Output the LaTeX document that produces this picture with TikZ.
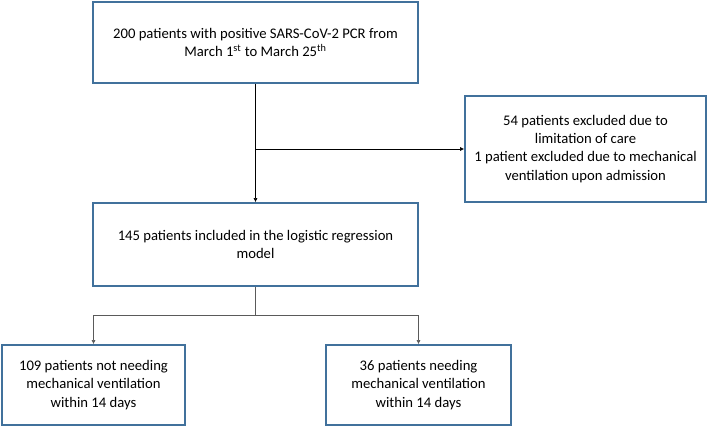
\documentclass[tikz,border=0pt]{standalone}
\usepackage{fontspec}
\setmainfont{Carlito}
\definecolor{boxblue}{RGB}{65,113,156}
\definecolor{linegray}{RGB}{90,90,90}
\tikzset{
  flowbox/.style={draw=boxblue, line width=1pt, rectangle, align=center, inner sep=0pt,
    font=\fontsize{11}{13.6}\selectfont},
  link/.style={draw=black, line width=0.5pt},
  linkarrow/.style={link, -{Latex[length=3.2pt,width=3pt]}}
}
\usetikzlibrary{arrows.meta}
\begin{document}
\begin{tikzpicture}[x=0.75pt,y=-0.75pt]
        \useasboundingbox (0,0) rectangle (708,428);
        % boxes
        \node[flowbox, minimum width=325*0.75pt, minimum height=81*0.75pt] (screened) at (255.5,42.5)
            {200 patients with positive SARS-CoV-2 PCR from\\ March 1\textsuperscript{st} to March 25\textsuperscript{th}};
        \node[flowbox, minimum width=241*0.75pt, minimum height=106*0.75pt] (excluded) at (585.5,149)
            {54 patients excluded due to\\ limitation of care\\ 1 patient excluded due to mechanical\\ ventilation upon admission};
        \node[flowbox, minimum width=325*0.75pt, minimum height=83*0.75pt] (included) at (255.5,244.5)
            {145 patients included in the logistic regression\\ model};
        \node[flowbox, minimum width=183*0.75pt, minimum height=80*0.75pt] (noventil) at (93.5,385)
            {109 patients not needing\\ mechanical ventilation\\ within 14 days};
        \node[flowbox, minimum width=185*0.75pt, minimum height=80*0.75pt] (ventil) at (418.5,385)
            {36 patients needing\\ mechanical ventilation\\ within 14 days};
        % connectors
        \coordinate (split) at (screened.south |- excluded.west);
        \coordinate (fork) at (255.5,315);
        \draw[linkarrow] (screened.south) -- (included.north);
        \draw[linkarrow] (split) -- (excluded.west);
        \draw[link, draw=linegray] (included.south) -- (fork);
        \draw[linkarrow, draw=linegray] (fork) -| (noventil.north);
        \draw[linkarrow, draw=linegray] (fork) -| (ventil.north);
\end{tikzpicture}
\end{document}
